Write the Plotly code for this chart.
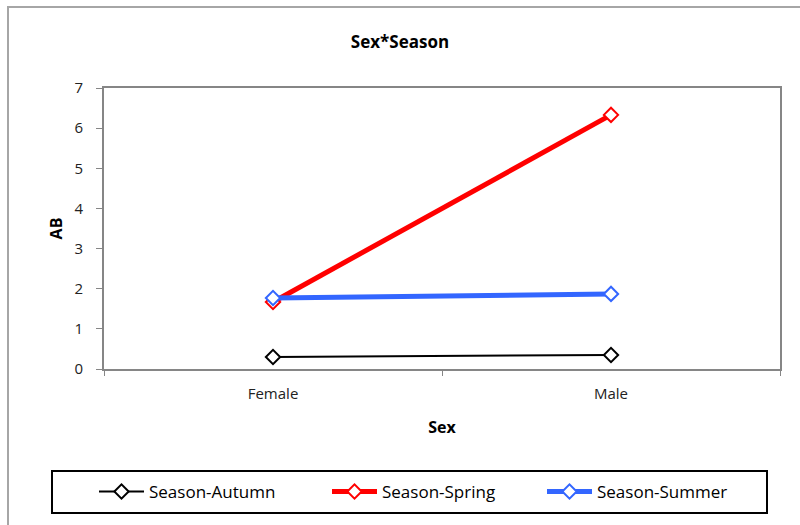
import plotly.graph_objects as go

# Estimated marginal means of AB by sex for each season
sexes = ["Female", "Male"]
autumn = [0.30, 0.35]
spring = [1.67, 6.33]
summer = [1.77, 1.87]

series_names = ["Season-Autumn", "Season-Spring", "Season-Summer"]
series_values = [autumn, spring, summer]
series_colors = ["#000000", "#FF0000", "#3366FF"]
series_widths = [2, 5, 5]
legend_ids = ["legend", "legend2", "legend3"]
legend_left_px = [94, 327, 542]

FONT = "Open Sans"
AXIS = "#868686"
FRAME = "#A6A6A6"

# plot area in pixels
L, R, T, B = 104, 780, 88, 369
PW, PH = R - L, B - T


def px_x(x):
    return (x - L) / PW


def px_y(y):
    return (B - y) / PH


fig = go.Figure()
for name, vals, col, w, lg in zip(series_names, series_values, series_colors,
                                  series_widths, legend_ids):
    fig.add_trace(go.Scatter(
        x=sexes, y=vals, name=name, mode="lines+markers", legend=lg,
        line=dict(color=col, width=w),
        marker=dict(symbol="diamond", size=11, color="white",
                    line=dict(color=col, width=2)),
    ))

# one single-entry legend per series so each entry sits at its own spot
legend_style = dict(orientation="h", xref="container", yref="container",
                    xanchor="left", yanchor="middle", y=(525 - 492) / 525,
                    font=dict(family=FONT, size=17, color="black"),
                    itemwidth=45, bgcolor="rgba(0,0,0,0)")
legends = {lg: dict(legend_style, x=xp / 800)
           for lg, xp in zip(legend_ids, legend_left_px)}

fig.update_layout(
    width=800, height=525,
    margin=dict(l=L, r=800 - R, t=T, b=525 - B),
    paper_bgcolor="white", plot_bgcolor="white",
    font=dict(family=FONT, size=15, color="#222222"),
    title=dict(text="<b>Sex*Season</b>", x=0.5, xanchor="center",
               y=1 - 42 / 525, yanchor="middle",
               font=dict(family=FONT, size=17, color="black")),
    showlegend=True,
    xaxis=dict(
        type="category", range=[-0.5, 1.5],
        showline=True, linecolor=AXIS, linewidth=2, mirror=True,
        ticks="outside", tickson="boundaries", ticklen=5, tickcolor=AXIS,
        ticklabelstandoff=10,
        showgrid=False, zeroline=False,
        tickfont=dict(family=FONT, size=15, color="#222222"),
        title=dict(text="<b>Sex</b>", standoff=20,
                   font=dict(family=FONT, size=16, color="black")),
    ),
    yaxis=dict(
        range=[0, 7], dtick=1,
        showline=True, linecolor=AXIS, linewidth=2, mirror=True,
        ticks="outside", ticklen=6, tickcolor=AXIS,
        ticklabelstandoff=10,
        showgrid=False, zeroline=False,
        tickfont=dict(family=FONT, size=15, color="#222222"),
        title=dict(text="<b>AB</b>", standoff=8,
                   font=dict(family=FONT, size=16, color="black")),
    ),
    shapes=[
        # outer chart frame
        dict(type="rect", xref="paper", yref="paper",
             x0=px_x(8), x1=px_x(830),
             y0=px_y(560), y1=px_y(7),
             line=dict(color=FRAME, width=2), layer="below"),
        # legend frame
        dict(type="rect", xref="paper", yref="paper",
             x0=px_x(52), x1=px_x(767),
             y0=px_y(513), y1=px_y(471),
             line=dict(color="black", width=2)),
    ],
    **legends,
)

fig.write_html("out.html")
